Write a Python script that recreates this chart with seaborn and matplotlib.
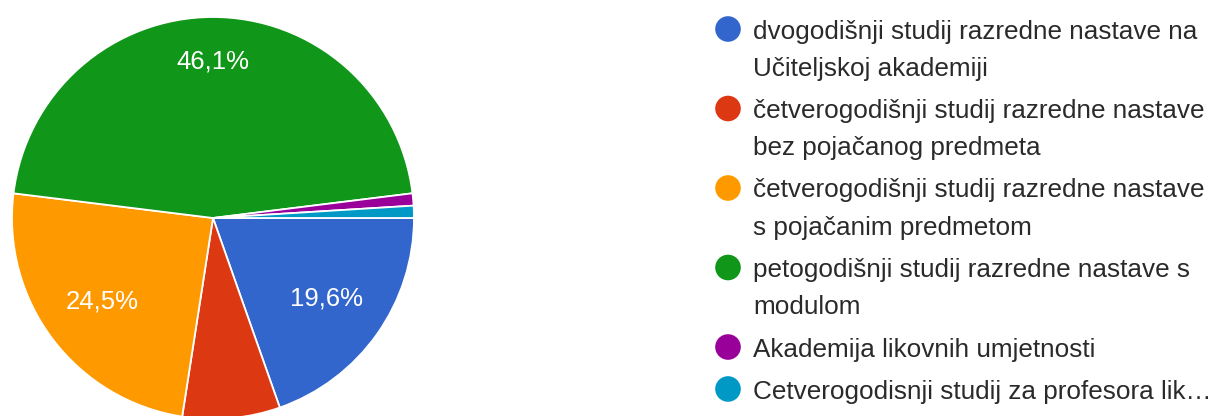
import numpy as np
import matplotlib
matplotlib.use("Agg")
import matplotlib.pyplot as plt
import seaborn as sns
import pandas as pd

# -----------------------------
# Data (answers, n = 102)
# -----------------------------
categories = [
    "dvogodišnji studij razredne nastave na\nUčiteljskoj akademiji",
    "četverogodišnji studij razredne nastave\nbez pojačanog predmeta",
    "četverogodišnji studij razredne nastave\ns pojačanim predmetom",
    "petogodišnji studij razredne nastave s\nmodulom",
    "Akademija likovnih umjetnosti",
    "Cetverogodisnji studij za profesora lik…",
]
counts = [20, 8, 25, 47, 1, 1]
colors = ["#3366CC", "#DC3912", "#FF9900", "#109618", "#990099", "#0099C6"]

sns.set_theme(style="white")
plt.rcParams["font.family"] = ["Liberation Sans", "DejaVu Sans"]

W, H = 1226, 416
fig = plt.figure(figsize=(W / 100, H / 100), dpi=100)

# -----------------------------
# Pie (centre 213,218 px, radius 201 px)
# -----------------------------
cx, cy, r = 213, 218, 201
pad = 1.03
ax = fig.add_axes([(cx - r * pad) / W, (H - cy - r * pad) / H, 2 * r * pad / W, 2 * r * pad / H])

def fmt(p):
    return f"{p:.1f}%".replace(".", ",") if p > 10 else ""

wedges, _, autotexts = ax.pie(
    counts, colors=colors, startangle=0, counterclock=False, radius=1,
    autopct=fmt, pctdistance=0.69,
    wedgeprops=dict(edgecolor="white", linewidth=1.3),
    textprops=dict(color="white", fontsize=18.5),
)
ax.set_xlim(-pad, pad)
ax.set_ylim(-pad, pad)
ax.set_aspect("equal")
ax.axis("off")
for w in wedges:
    w.set_clip_on(False)

# largest slice label sits further out
big = int(np.argmax(counts))
x, y = autotexts[big].get_position()
autotexts[big].set_position((x * 0.78 / 0.69, y * 0.78 / 0.69))

# -----------------------------
# Legend (drawn in pixel coords)
# -----------------------------
lax = fig.add_axes([0, 0, 1, 1])
lax.set_xlim(0, W)
lax.set_ylim(H, 0)
lax.axis("off")

line_h, gap = 37.5, 4.5
ys = []
y = 29
for lab in categories:
    ys.append(y)
    y += line_h * (lab.count("\n") + 1) + gap

leg = pd.DataFrame({"x": [728] * len(categories), "y": ys, "cat": categories})
sns.scatterplot(data=leg, x="x", y="y", hue="cat", palette=colors, s=340,
                edgecolor="none", legend=False, ax=lax)
for lab, yy in zip(categories, ys):
    for i, part in enumerate(lab.split("\n")):
        lax.text(753, yy + i * line_h, part, fontsize=18.8, color="#2a2a2a",
                 va="center_baseline", ha="left")

fig.savefig("out.png", dpi=100)
